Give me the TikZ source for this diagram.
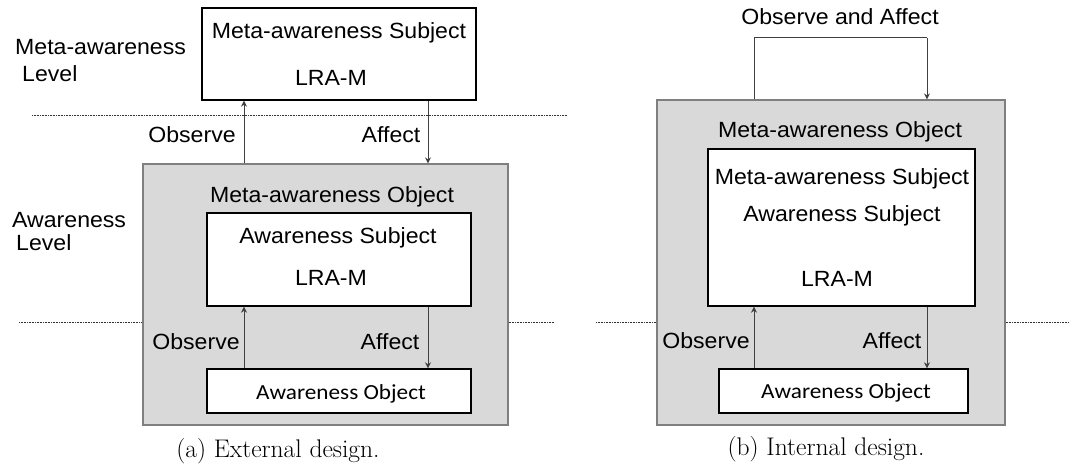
\documentclass[tikz,border=0pt]{standalone}
\usepackage{fontspec}
\usetikzlibrary{arrows.meta}
\newfontfamily\arialf{Liberation Sans}[FakeStretch=1.05]
\newfontfamily\calf{Carlito}[FakeStretch=1.08]
\definecolor{panelgray}{HTML}{D9D9D9}
\definecolor{paneledge}{HTML}{7F7F7F}
\definecolor{wiregray}{HTML}{404040}
\tikzset{
  wbox/.style={draw=black, line width=1.4pt, fill=white, inner sep=0pt},
  gbox/.style={draw=paneledge, line width=1.2pt, fill=panelgray, inner sep=0pt},
  lbl/.style={inner sep=0pt, anchor=base, font=\arialf\fontsize{22}{26}\selectfont},
  lblw/.style={lbl, anchor=base west},
  objlbl/.style={inner sep=0pt, anchor=base, font=\calf\fontsize{21.5}{26}\selectfont},
  captext/.style={inner sep=0pt, anchor=base, font=\fontsize{25.5}{30}\selectfont},
  arr/.style={draw=wiregray, line width=1pt, -{Stealth[length=6pt,width=6pt]}},
  wire/.style={draw=wiregray, line width=1pt},
  levelline/.style={draw=black!80, line width=0.6pt, dash pattern=on 0.8pt off 0.8pt},
}
\begin{document}
\begin{tikzpicture}[x=1pt,y=-1pt]
\useasboundingbox (0,0) rectangle (1070,465);

% ---------- level separators ----------
\draw[levelline] (32,115) -- (567,115);
\draw[levelline] (19,322) -- (554,322);
\draw[levelline] (596,322) -- (1070,322);

% ---------- (a) external design ----------
\node[lblw] (lvlma) at (15,55) {Meta-awareness};
\node[lblw] (lvlmb) at (22,82) {Level};
\node[lblw] (lvlaa) at (12,227) {Awareness};
\node[lblw] (lvlab) at (16,250) {Level};

\node[wbox, minimum width=274pt, minimum height=92pt] (ms1) at (339,54) {};
\node[lbl] (ms1t) at (339,39) {Meta-awareness Subject};
\node[lbl] (ms1m) at (331,86) {LRA-M};

\node[gbox, minimum width=365pt, minimum height=261pt] (go1) at (325.5,294.5) {};
\node[lbl] (go1t) at (332,202) {Meta-awareness Object};

\node[wbox, minimum width=264pt, minimum height=93pt] (as1) at (339,259.5) {};
\node[lbl] (as1t) at (338,243) {Awareness Subject};
\node[lbl] (as1m) at (331,285) {LRA-M};

\node[wbox, minimum width=264pt, minimum height=44pt] (ao1) at (339,391) {};
\node[objlbl] (ao1t) at (341,399) {Awareness Object};

\coordinate (xo1) at (244,0);
\coordinate (xa1) at (428,0);
\draw[arr] (go1.north -| xo1) -- (ms1.south -| xo1);
\draw[arr] (ms1.south -| xa1) -- (go1.north -| xa1);
\draw[arr] (ao1.north -| xo1) -- (as1.south -| xo1);
\draw[arr] (as1.south -| xa1) -- (ao1.north -| xa1);

\node[lbl] (ob1u) at (192,143) {Observe};
\node[lbl] (af1u) at (391,143) {Affect};
\node[lbl] (ob1l) at (196,349) {Observe};
\node[lbl] (af1l) at (390,349) {Affect};

\node[captext] (capa) at (278,457) {(a) External design.};

% ---------- (b) internal design ----------
\node[gbox, minimum width=348pt, minimum height=325pt] (go2) at (831,262.5) {};
\node[lbl] (go2t) at (840,138) {Meta-awareness Object};

\node[wbox, minimum width=267pt, minimum height=157pt] (ms2) at (841.5,227.5) {};
\node[lbl] (ms2t) at (842,185) {Meta-awareness Subject};
\node[lbl] (as2t) at (842,222) {Awareness Subject};
\node[lbl] (ms2m) at (837,286) {LRA-M};

\node[wbox, minimum width=249pt, minimum height=44pt] (ao2) at (843.5,391) {};
\node[objlbl] (ao2t) at (846,398) {Awareness Object};

\coordinate (xo2) at (754,0);
\coordinate (xa2) at (927,0);
\coordinate (loopy) at (0,38);
\draw[wire] (go2.north -| xo2) -- (loopy -| xo2) -- (loopy -| xa2);
\draw[arr] (loopy -| xa2) -- (go2.north -| xa2);
\node[lbl] (oaf) at (840,25) {Observe and Affect};

\draw[arr] (ao2.north -| xo2) -- (ms2.south -| xo2);
\draw[arr] (ms2.south -| xa2) -- (ao2.north -| xa2);

\node[lbl] (ob2) at (706,348) {Observe};
\node[lbl] (af2) at (892,348) {Affect};

\node[captext] (capb) at (826,455) {(b) Internal design.};
\end{tikzpicture}
\end{document}
